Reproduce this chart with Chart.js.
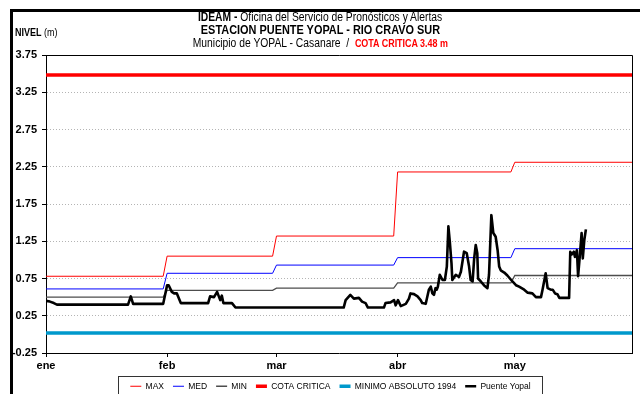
<!DOCTYPE html>
<html lang="es">
<head>
<meta charset="utf-8">
<title>Nivel Puente Yopal - Rio Cravo Sur</title>
<script src="https://cdn.jsdelivr.net/npm/chart.js@4.4.1/dist/chart.umd.min.js"></script>
<style>
  html, body { margin: 0; padding: 0; background: #fff; }
  #wrap {
    position: relative; width: 640px; height: 394px; overflow: hidden;
    font-family: 'Liberation Sans', Arial, sans-serif;
    color: #000;
  }
  #marco {
    position: absolute; left: 10px; top: 9px; right: -10px; bottom: -10px;
    border-top: 3px solid #000; border-left: 3px solid #000;
  }
  #titulo {
    position: absolute; left: 0; top: 11px; width: 640px;
    text-align: center; font-size: 12px; line-height: 13px;
  }
  #titulo span.l { display: inline-block; white-space: nowrap; transform-origin: 50% 50%; }
  #titulo .n { transform: scaleX(0.86); }
  #titulo .b { transform: scaleX(0.91); }
  #titulo .cota { color: #ff0000; font-weight: bold; font-size: 10.4px; }
  #unidad {
    position: absolute; left: 15px; top: 27px; font-size: 10px;
    transform: scaleX(0.9); transform-origin: 0 50%; white-space: nowrap;
  }
  canvas { position: absolute; left: 0; top: 0; }
</style>
</head>
<body>
<div id="wrap">
  <div id="marco"></div>
  <canvas id="chart" width="640" height="394"></canvas>
  <div id="titulo">
    <div><span class="l n"><b>IDEAM -</b> Oficina del Servicio de Pronósticos y Alertas</span></div>
    <div><span class="l b"><b>ESTACION PUENTE YOPAL - RIO CRAVO SUR</b></span></div>
    <div><span class="l n">Municipio de YOPAL - Casanare &nbsp;/&nbsp; <span class="cota" id="cotaTxt"></span></span></div>
  </div>
  <div id="unidad"><b>NIVEL</b> (m)</div>
</div>
<script>
// dias contados desde el 1 de enero
const monthTicks = [0, 31, 59, 90, 120];
const monthLabels = ['ene', 'feb', 'mar', 'abr', 'may'];
const ultimoDia = 150;
const nivelTicks = [-0.25, 0.25, 0.75, 1.25, 1.75, 2.25, 2.75, 3.25, 3.75];

// niveles historicos mensuales (m)
const maxMensual = [0.78, 1.05, 1.32, 2.18, 2.31];
const medMensual = [0.61, 0.82, 0.93, 1.03, 1.15];
const minMensual = [0.50, 0.59, 0.62, 0.69, 0.79];

const cotaCritica = 3.48;
const minimoAbsoluto = 0.02;

// registro Puente Yopal
const yopalDia = [
  0, 1, 2, 2.8, 21.0, 21.7, 22.3, 30.0, 31.0, 31.4, 32.2, 32.8, 33.5, 34.5,
  41.5, 42.0, 43.0, 43.8, 44.6, 45.0, 45.4, 47.6, 48.5, 76.2, 76.7, 77.9,
  78.8, 80.1, 80.9, 81.8, 82.4, 86.5, 86.9, 88.2, 89.1, 89.5, 90.1, 90.8,
  92.1, 92.9, 93.3, 94.2, 95.1, 95.9, 96.3, 97.2, 98.0, 98.5, 98.9, 99.3,
  99.7, 100.0, 100.3, 100.8, 101.5, 102.1, 102.6, 103.0, 103.4, 103.8, 104.0,
  104.9, 105.7, 106.2, 107.0, 107.7, 108.3, 108.7, 109.2, 109.6, 110.0, 110.4,
  110.6, 111.3, 112.1, 113.0, 113.4, 114.0, 114.5, 115.1, 115.6, 116.0, 116.4,
  117.3, 118.1, 119.4, 120.3, 121.1, 122.4, 123.3, 124.5, 125.4, 126.7, 127.1,
  127.9, 128.4, 129.2, 129.7, 130.3, 130.9, 131.4, 133.9, 134.2, 134.5, 135.1,
  135.4, 135.9, 136.2, 136.7, 137.1, 137.4, 137.8, 138.2
];
const yopalNivel = [
  0.45, 0.44, 0.42, 0.40, 0.40, 0.51, 0.41, 0.41, 0.66, 0.66, 0.57, 0.55, 0.55, 0.42,
  0.42, 0.51, 0.50, 0.57, 0.46, 0.52, 0.42, 0.42, 0.36, 0.36, 0.46, 0.53,
  0.48, 0.49, 0.44, 0.42, 0.36, 0.36, 0.42, 0.43, 0.46, 0.39, 0.46, 0.38,
  0.41, 0.48, 0.55, 0.54, 0.51, 0.46, 0.42, 0.41, 0.60, 0.64, 0.55, 0.53,
  0.62, 0.60, 0.64, 0.80, 0.73, 0.73, 0.91, 1.45, 1.22, 0.95, 0.73,
  0.80, 0.77, 0.84, 1.11, 1.09, 0.91, 0.73, 0.71, 1.02, 1.20, 1.09,
  0.75, 0.71, 0.66, 0.62, 0.80, 1.60, 1.36, 1.31, 1.13, 0.91, 0.86,
  0.83, 0.79, 0.71, 0.66, 0.64, 0.60, 0.56, 0.55, 0.50, 0.50, 0.60,
  0.82, 0.62, 0.60, 0.60, 0.55, 0.54, 0.49, 0.49, 1.11, 1.07, 1.11,
  1.04, 1.13, 0.78, 1.09, 1.36, 1.02, 1.27, 1.41
];

document.getElementById('cotaTxt').textContent = 'COTA CRITICA ' + cotaCritica.toFixed(2) + ' m';

// escalones: un valor por mes, con cambio entre el ultimo dia y el primero del mes siguiente
function escalones(valores) {
  const pts = [];
  valores.forEach((v, i) => {
    const fin = i + 1 < monthTicks.length ? monthTicks[i + 1] - 1 : ultimoDia;
    pts.push({ x: monthTicks[i], y: v }, { x: fin, y: v });
  });
  return pts;
}

function constante(v) {
  return [{ x: 0, y: v }, { x: ultimoDia, y: v }];
}

const serieYopal = yopalDia.map((d, i) => ({ x: d, y: yopalNivel[i] }));

const base = { pointRadius: 0, tension: 0, fill: false, order: 1 };

const LEYENDA_CENTRO = 330.5;

// marco del area de datos y recuadro de la leyenda
const marcos = {
  id: 'marcos',
  afterUpdate(chart) {
    // la leyenda se centra bajo el area de datos
    const lg = chart.legend;
    const d = LEYENDA_CENTRO - (lg.left + lg.right) / 2;
    lg.left += d;
    lg.right += d;
    (lg.legendHitBoxes || []).forEach((h) => { h.left += d; });
  },
  beforeDatasetsDraw(chart) {
    const { ctx, chartArea: a } = chart;
    ctx.save();
    ctx.strokeStyle = '#000';
    ctx.lineWidth = 1;
    ctx.beginPath();
    ctx.moveTo(a.left, Math.round(a.top) + 0.5);
    ctx.lineTo(Math.round(a.right) + 0.5, Math.round(a.top) + 0.5);
    ctx.lineTo(Math.round(a.right) + 0.5, a.bottom);
    ctx.stroke();
    ctx.restore();
  },
  afterDraw(chart) {
    const boxes = chart.legend.legendHitBoxes;
    if (!boxes || !boxes.length) return;
    const first = boxes[0];
    const last = boxes[boxes.length - 1];
    const ctx = chart.ctx;
    const x0 = Math.round(first.left - 12) + 0.5;
    const x1 = Math.round(last.left + last.width + 11) + 0.5;
    ctx.save();
    ctx.strokeStyle = '#333';
    ctx.lineWidth = 1;
    ctx.strokeRect(x0, 376.5, x1 - x0, 30);
    ctx.restore();
  }
};

const tickFont = { family: "'Liberation Sans', Arial, sans-serif", size: 11, weight: 'bold' };

new Chart(document.getElementById('chart').getContext('2d'), {
  type: 'line',
  data: {
    datasets: [
      { ...base, label: 'MAX', data: escalones(maxMensual), borderColor: '#ff0000', borderWidth: 1 },
      { ...base, label: 'MED', data: escalones(medMensual), borderColor: '#0000ff', borderWidth: 1 },
      { ...base, label: 'MIN', data: escalones(minMensual), borderColor: '#4d4d4d', borderWidth: 1.3 },
      { ...base, label: 'COTA CRITICA', data: constante(cotaCritica), borderColor: '#ff0000', borderWidth: 3.5 },
      { ...base, label: 'MINIMO ABSOLUTO 1994', data: constante(minimoAbsoluto), borderColor: '#0099cc', borderWidth: 3.5 },
      {
        ...base, order: 0, label: 'Puente Yopal', data: serieYopal,
        borderColor: '#000000', borderWidth: 2.6, borderJoinStyle: 'round'
      },
    ],
  },
  options: {
    responsive: false,
    animation: false,
    devicePixelRatio: 1,
    layout: { padding: { left: 10, right: 8, top: 55, bottom: 0 } },
    scales: {
      x: {
        type: 'linear',
        min: 0,
        max: ultimoDia,
        afterBuildTicks: (s) => { s.ticks = monthTicks.map((v) => ({ value: v })); },
        afterFit: (s) => { s.height = 20; },
        ticks: {
          autoSkip: false,
          maxRotation: 0,
          padding: 2,
          color: '#000',
          font: tickFont,
          callback: (v, i) => monthLabels[i],
        },
        grid: {
          drawOnChartArea: false,
          drawTicks: true,
          tickLength: 4,
          tickColor: '#000',
          tickWidth: 1,
        },
        border: { display: true, color: '#000', width: 1 },
      },
      y: {
        min: -0.25,
        max: 3.75,
        afterBuildTicks: (s) => { s.ticks = nivelTicks.map((v) => ({ value: v })); },
        afterFit: (s) => { s.width = 36; },
        ticks: {
          autoSkip: false,
          padding: 5,
          color: '#000',
          font: tickFont,
          callback: (v) => Number(v).toFixed(2),
        },
        grid: {
          color: '#b4b4b4',
          lineWidth: 1,
          drawTicks: true,
          tickLength: 4,
          tickColor: '#000',
          tickWidth: 1,
          tickBorderDash: [],
        },
        border: { display: true, color: '#000', width: 1, dash: [1, 2] },
      },
    },
    plugins: {
      title: { display: false },
      tooltip: { enabled: false },
      legend: {
        display: true,
        position: 'bottom',
        maxHeight: 21,
        labels: {
          usePointStyle: true,
          pointStyle: 'line',
          pointStyleWidth: 11,
          padding: 9,
          color: '#000',
          font: { family: "'Liberation Sans', Arial, sans-serif", size: 8.5 },
          sort: (a, b) => a.datasetIndex - b.datasetIndex,
        },
      },
    },
  },
  plugins: [marcos],
});
</script>
</body>
</html>
